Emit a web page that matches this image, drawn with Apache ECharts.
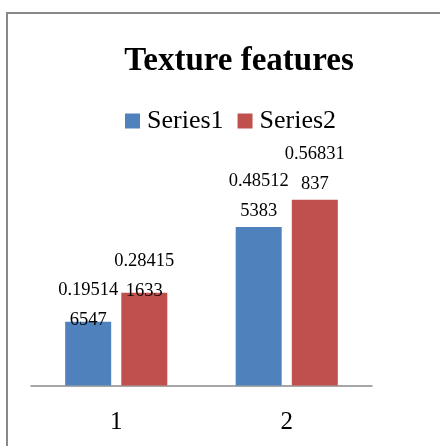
<!DOCTYPE html>
<html>
<head>
<meta charset="utf-8">
<script src="https://cdn.jsdelivr.net/npm/echarts@6/dist/echarts.min.js"></script>
<style>
    html, body { margin: 0; padding: 0; background: #fff; }
    #main { width: 440px; height: 446px; }
</style>
</head>
<body>
<div id="main"></div>
<script>
    var categories = ['1', '2'];
    var series1 = [0.195146547, 0.485125383];
    var series2 = [0.284151633, 0.56831837];

    var serif = '"Times New Roman", "Liberation Serif", serif';
    // small vertical nudge of the data labels per category (Excel placed them unevenly)
    var labelNudge = [6, -8];

    // Excel-style wrapped labels: 7 characters per line
    function wrapLabel(p) {
        var s = String(p.value);
        return s.slice(0, 7) + '\n' + s.slice(7);
    }

    var labelStyle = {
        show: true,
        position: 'top',
        distance: -7,
        formatter: wrapLabel,
        fontFamily: serif,
        fontSize: 18.5,
        lineHeight: 30,
        color: '#000'
    };

    function withNudge(values) {
        return values.map(function (v, i) {
            return { value: v, label: { offset: [0, labelNudge[i]] } };
        });
    }

    var chart = echarts.init(document.getElementById('main'));
    var option = {
        animation: false,
        title: {
            text: 'Texture features',
            left: 234,
            textAlign: 'center',
            top: 40,
            textStyle: { fontFamily: serif, fontWeight: 'bold', fontSize: 33, color: '#000' }
        },
        legend: {
            left: 120,
            top: 103,
            itemWidth: 15,
            itemHeight: 15,
            itemGap: 14,
            icon: 'rect',
            textStyle: { fontFamily: serif, fontSize: 26, color: '#000', padding: [0, 0, 0, 2] },
            data: ['Series1', 'Series2']
        },
        graphic: [{
            type: 'rect',
            shape: { x: 7, y: 13, width: 600, height: 600 },
            style: { fill: 'none', stroke: '#888', lineWidth: 2 },
            silent: true
        }],
        grid: { left: 31, right: 68, top: 189.5, bottom: 60.5 },
        xAxis: {
            type: 'category',
            data: categories,
            axisLine: { lineStyle: { color: '#898989', width: 1.5 } },
            axisTick: { show: false },
            axisLabel: { fontFamily: serif, fontSize: 25, color: '#000', margin: 24 }
        },
        yAxis: {
            type: 'value',
            min: 0,
            max: 0.6,
            show: false,
            splitLine: { show: false }
        },
        series: [
            {
                name: 'Series1',
                type: 'bar',
                data: withNudge(series1),
                barWidth: 46,
                barGap: '22%',
                itemStyle: { color: '#4f81bd' },
                label: labelStyle
            },
            {
                name: 'Series2',
                type: 'bar',
                data: withNudge(series2),
                barWidth: 46,
                itemStyle: { color: '#c0504d' },
                label: labelStyle
            }
        ]
    };
    chart.setOption(option);
</script>
</body>
</html>
